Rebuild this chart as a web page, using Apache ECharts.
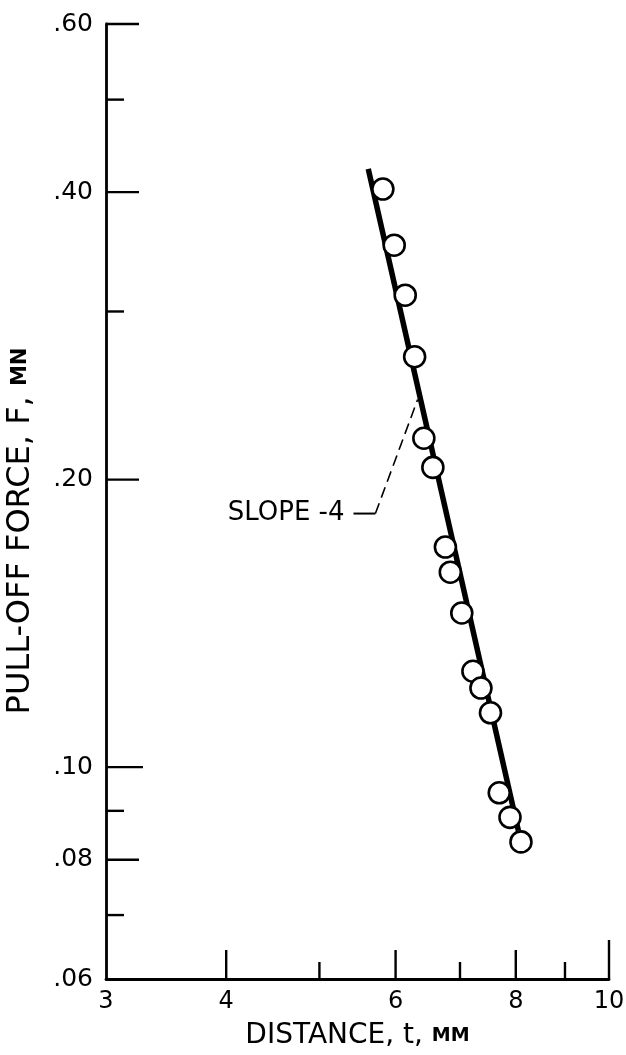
<!DOCTYPE html>
<html>
<head>
<meta charset="utf-8">
<script src="https://cdn.jsdelivr.net/npm/echarts@6/dist/echarts.min.js"></script>
<style>
html,body{margin:0;padding:0;background:#fff;}
#chart{width:626px;height:1055px;}
</style>
</head>
<body>
<div id="chart"></div>
<script>
// ---- data ----
const distance = [5.82, 5.98, 6.14, 6.28, 6.42, 6.56, 6.76, 6.84, 7.03, 7.22, 7.36, 7.53, 7.69, 7.89, 8.10];
const force    = [0.403, 0.352, 0.312, 0.269, 0.221, 0.206, 0.170, 0.160, 0.145, 0.126, 0.121, 0.114, 0.094, 0.0886, 0.0835];
const fitX = [5.62, 8.05];
const fitY = [0.423, 0.0858];
const leaderX = [5.425, 5.717];
const leaderY = [0.1843, 0.1843];
const dashX = [5.717, 6.325];
const dashY = [0.1843, 0.2426];
const slopeLabel = 'SLOPE -4';
const xTicks = [3, 4, 5, 6, 7, 8, 9, 10];
const xTickLabels = ['3', '4', '', '6', '', '8', '', '10'];
const yTicks = [0.06, 0.07, 0.08, 0.09, 0.10, 0.20, 0.30, 0.40, 0.50, 0.60];
const yTickLabels = ['.06', '', '.08', '', '.10', '.20', '', '.40', '', '.60'];
const xMin = 3, xMax = 10, yMin = 0.06, yMax = 0.60;
const xName = 'DISTANCE, t, {s|MM}';
const yName = 'PULL-OFF FORCE, F, {s|MN}';

// ---- styling ----
const FONT = 'DejaVu Sans';
const tickLenStyle = { xMajor: 29, xMinor: 17, yMajor: 33, yMinor: 18, over: { '10': 39, '.10': 37 } };

function tickLen(axis, value, label) {
  if (axis === 'x' && value === xMin) return 0;
  if (axis === 'y' && value === yMin) return 0;
  if (label && tickLenStyle.over[label]) return tickLenStyle.over[label];
  if (axis === 'x') return label ? tickLenStyle.xMajor : tickLenStyle.xMinor;
  return label ? tickLenStyle.yMajor : tickLenStyle.yMinor;
}

const chart = echarts.init(document.getElementById('chart'), null, { renderer: 'canvas' });

const option = {
  animation: false,
  backgroundColor: '#fff',
  grid: { left: 106, right: 17, top: 24, bottom: 74, containLabel: false },
  xAxis: {
    type: 'log', logBase: 10, min: xMin, max: xMax,
    axisLine: { show: true, onZero: false, lineStyle: { color: '#000', width: 2.8 } },
    axisTick: { show: false }, axisLabel: { show: false }, splitLine: { show: false },
    name: xName, nameLocation: 'middle', nameGap: 43,
    nameTextStyle: { fontFamily: FONT, fontSize: 28, color: '#000',
      rich: { s: { fontFamily: FONT, fontSize: 19, fontWeight: 'bold', color: '#000' } } }
  },
  yAxis: {
    type: 'log', logBase: 10, min: yMin, max: yMax,
    axisLine: { show: true, onZero: false, lineStyle: { color: '#000', width: 2.8 } },
    axisTick: { show: false }, axisLabel: { show: false }, splitLine: { show: false }
  },
  graphic: [{
    type: 'text', x: 21, y: 531, rotation: Math.PI / 2,
    style: {
      text: yName, fill: '#000', font: '32px "' + FONT + '"',
      align: 'center', verticalAlign: 'middle',
      rich: { s: { fontFamily: FONT, fontSize: 21, fontWeight: 'bold', fill: '#000' } }
    }
  }],
  series: [
    {
      type: 'custom', name: 'xticks', coordinateSystem: 'cartesian2d', silent: true,
      data: xTicks.map(v => [v, yMin]),
      encode: { x: 0, y: 1 },
      renderItem: function (params, api) {
        const v = xTicks[params.dataIndex];
        const lab = xTickLabels[params.dataIndex];
        const p = api.coord([v, yMin]);
        const len = tickLen('x', v, lab);
        const ch = [];
        if (len > 0) ch.push({ type: 'line', shape: { x1: p[0], y1: p[1], x2: p[0], y2: p[1] - len }, style: { stroke: '#000', lineWidth: 2.4 } });
        if (lab) ch.push({ type: 'text', x: p[0], y: p[1] + 23, style: { text: lab, fill: '#000', font: '24px "' + FONT + '"', align: 'center', verticalAlign: 'middle' } });
        return { type: 'group', children: ch };
      }
    },
    {
      type: 'custom', name: 'yticks', coordinateSystem: 'cartesian2d', silent: true,
      data: yTicks.map(v => [xMin, v]),
      encode: { x: 0, y: 1 },
      renderItem: function (params, api) {
        const v = yTicks[params.dataIndex];
        const lab = yTickLabels[params.dataIndex];
        const p = api.coord([xMin, v]);
        const len = tickLen('y', v, lab);
        const ch = [];
        if (len > 0) ch.push({ type: 'line', shape: { x1: p[0], y1: p[1], x2: p[0] + len, y2: p[1] }, style: { stroke: '#000', lineWidth: 2.4 } });
        if (lab) ch.push({ type: 'text', x: p[0] - 13, y: p[1], style: { text: lab, fill: '#000', font: '25px "' + FONT + '"', align: 'right', verticalAlign: 'middle' } });
        return { type: 'group', children: ch };
      }
    },
    {
      type: 'line', name: 'fit', data: fitX.map((x, i) => [x, fitY[i]]),
      symbol: 'none', lineStyle: { color: '#000', width: 5.5 }, silent: true, z: 3
    },
    {
      type: 'line', name: 'leader', data: leaderX.map((x, i) => [x, leaderY[i]]),
      symbol: 'none', lineStyle: { color: '#000', width: 2 }, silent: true, z: 3
    },
    {
      type: 'line', name: 'dash', data: dashX.map((x, i) => [x, dashY[i]]),
      symbol: 'none', lineStyle: { color: '#000', width: 1.6, type: [11, 6] }, silent: true, z: 3
    },
    {
      type: 'custom', name: 'slopeLabel', coordinateSystem: 'cartesian2d', silent: true, z: 4,
      data: [[leaderX[0], leaderY[0]]],
      encode: { x: 0, y: 1 },
      renderItem: function (params, api) {
        const p = api.coord([api.value(0), api.value(1)]);
        return { type: 'text', x: p[0] - 9, y: p[1], style: { text: slopeLabel, fill: '#000', font: '26px "' + FONT + '"', align: 'right', verticalAlign: 'middle' } };
      }
    },
    {
      type: 'scatter', name: 'data', data: distance.map((x, i) => [x, force[i]]),
      symbol: 'circle', symbolSize: 21, z: 5,
      itemStyle: { color: '#fff', borderColor: '#000', borderWidth: 2.6, opacity: 1 }
    }
  ]
};
chart.setOption(option);
</script>
</body>
</html>
